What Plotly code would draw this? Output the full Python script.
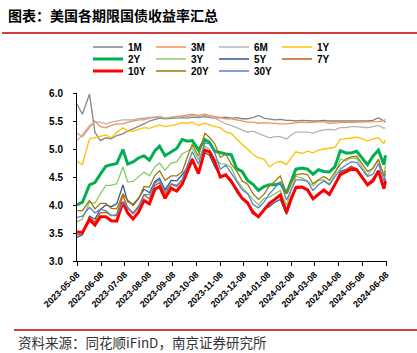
import plotly.graph_objects as go

# ---------------- data ----------------
dates = [
    "2023-05-08", "2023-05-15", "2023-05-24", "2023-05-31", "2023-06-07", "2023-06-14",
    "2023-06-21", "2023-06-28", "2023-07-06", "2023-07-12", "2023-07-19", "2023-07-26",
    "2023-08-02", "2023-08-09", "2023-08-16", "2023-08-22", "2023-08-29", "2023-09-06",
    "2023-09-13", "2023-09-20", "2023-09-27", "2023-10-03", "2023-10-11", "2023-10-19",
    "2023-10-25", "2023-11-01", "2023-11-08", "2023-11-15", "2023-11-22", "2023-11-29",
    "2023-12-06", "2023-12-13", "2023-12-20", "2023-12-27", "2024-01-03", "2024-01-10",
    "2024-01-17", "2024-01-24", "2024-02-01", "2024-02-07", "2024-02-13", "2024-02-21",
    "2024-02-28", "2024-03-06", "2024-03-13", "2024-03-20", "2024-03-27", "2024-04-03",
    "2024-04-10", "2024-04-17", "2024-04-24", "2024-05-01", "2024-05-08", "2024-05-15",
    "2024-05-22", "2024-05-29", "2024-06-05", "2024-06-07",
]

y_1m = [5.80, 5.62, 5.98, 5.30, 5.15, 5.20, 5.18, 5.24, 5.27, 5.32, 5.36, 5.40,
        5.45, 5.50, 5.53, 5.55, 5.54, 5.55, 5.56, 5.56, 5.55, 5.57, 5.56, 5.58,
        5.56, 5.55, 5.56, 5.57, 5.55, 5.56, 5.54, 5.54, 5.56, 5.60, 5.55, 5.53,
        5.52, 5.53, 5.51, 5.51, 5.50, 5.51, 5.50, 5.50, 5.50, 5.51, 5.50, 5.50,
        5.49, 5.50, 5.50, 5.50, 5.49, 5.50, 5.51, 5.56, 5.50, 5.48]
y_3m = [5.28, 5.22, 5.38, 5.50, 5.40, 5.38, 5.42, 5.45, 5.45, 5.48, 5.50, 5.52,
        5.52, 5.55, 5.56, 5.57, 5.55, 5.57, 5.58, 5.59, 5.60, 5.62, 5.60, 5.62,
        5.60, 5.58, 5.56, 5.54, 5.54, 5.52, 5.50, 5.48, 5.48, 5.46, 5.47, 5.46,
        5.45, 5.45, 5.45, 5.46, 5.47, 5.48, 5.47, 5.48, 5.48, 5.49, 5.46, 5.46,
        5.47, 5.48, 5.47, 5.48, 5.48, 5.48, 5.48, 5.49, 5.51, 5.53]
y_6m = [5.15, 5.25, 5.42, 5.48, 5.48, 5.45, 5.48, 5.50, 5.52, 5.52, 5.52, 5.54,
        5.55, 5.56, 5.57, 5.58, 5.55, 5.57, 5.56, 5.58, 5.58, 5.60, 5.58, 5.60,
        5.58, 5.55, 5.50, 5.45, 5.42, 5.38, 5.35, 5.30, 5.32, 5.28, 5.25, 5.20,
        5.22, 5.22, 5.18, 5.25, 5.30, 5.30, 5.30, 5.28, 5.32, 5.34, 5.35, 5.34,
        5.38, 5.38, 5.40, 5.40, 5.39, 5.38, 5.40, 5.42, 5.37, 5.38]
y_1y = [4.78, 4.72, 5.18, 5.20, 5.22, 5.25, 5.20, 5.30, 5.38, 5.32, 5.32, 5.35,
        5.38, 5.37, 5.40, 5.43, 5.40, 5.42, 5.44, 5.47, 5.46, 5.48, 5.42, 5.46,
        5.43, 5.40, 5.38, 5.30, 5.28, 5.18, 5.08, 5.00, 4.90, 4.84, 4.82, 4.68,
        4.75, 4.78, 4.72, 4.84, 4.95, 4.92, 4.96, 4.93, 4.98, 5.00, 5.02, 5.03,
        5.17, 5.18, 5.20, 5.21, 5.18, 5.14, 5.18, 5.20, 5.10, 5.16]
y_2y = [4.00, 4.05, 4.36, 4.40, 4.55, 4.69, 4.72, 4.74, 4.99, 4.73, 4.77, 4.84,
        4.88, 4.80, 4.97, 5.05, 4.88, 4.95, 5.01, 5.17, 5.14, 5.15, 4.98, 5.17,
        5.12, 4.96, 4.93, 4.91, 4.90, 4.65, 4.60, 4.44, 4.37, 4.26, 4.33, 4.36,
        4.36, 4.39, 4.21, 4.44, 4.64, 4.66, 4.64, 4.55, 4.63, 4.60, 4.59, 4.68,
        4.97, 4.93, 4.93, 4.96, 4.83, 4.72, 4.87, 4.98, 4.72, 4.89]
y_3y = [3.70, 3.75, 4.05, 4.03, 4.20, 4.35, 4.35, 4.38, 4.68, 4.41, 4.42, 4.50,
        4.59, 4.52, 4.68, 4.75, 4.62, 4.75, 4.77, 4.91, 4.96, 5.01, 4.81, 5.05,
        5.00, 4.82, 4.74, 4.73, 4.67, 4.45, 4.32, 4.20, 4.10, 4.00, 4.12, 4.14,
        4.20, 4.26, 3.99, 4.28, 4.51, 4.48, 4.43, 4.34, 4.44, 4.45, 4.38, 4.53,
        4.82, 4.79, 4.84, 4.83, 4.67, 4.53, 4.67, 4.80, 4.53, 4.71]
y_5y = [3.42, 3.47, 3.80, 3.75, 3.92, 4.00, 3.97, 4.02, 4.36, 4.06, 4.01, 4.12,
        4.28, 4.22, 4.42, 4.48, 4.27, 4.44, 4.43, 4.54, 4.68, 4.82, 4.59, 4.93,
        4.89, 4.68, 4.52, 4.51, 4.45, 4.23, 4.11, 4.02, 3.90, 3.79, 3.93, 3.97,
        4.05, 4.10, 3.83, 4.09, 4.31, 4.31, 4.26, 4.10, 4.21, 4.24, 4.18, 4.35,
        4.60, 4.63, 4.69, 4.64, 4.50, 4.36, 4.47, 4.62, 4.31, 4.47]
y_7y = [3.46, 3.49, 3.78, 3.70, 3.86, 3.87, 3.81, 3.83, 4.17, 3.95, 3.86, 3.98,
        4.18, 4.11, 4.35, 4.40, 4.19, 4.37, 4.33, 4.44, 4.66, 4.84, 4.59, 4.98,
        4.95, 4.76, 4.51, 4.55, 4.45, 4.26, 4.13, 4.04, 3.90, 3.78, 3.92, 4.00,
        4.09, 4.15, 3.85, 4.13, 4.33, 4.33, 4.29, 4.12, 4.21, 4.27, 4.20, 4.37,
        4.57, 4.62, 4.68, 4.65, 4.52, 4.38, 4.46, 4.62, 4.30, 4.45]
y_10y = [3.52, 3.51, 3.74, 3.64, 3.79, 3.79, 3.72, 3.71, 4.05, 3.86, 3.75, 3.87,
         4.08, 4.02, 4.28, 4.33, 4.12, 4.30, 4.25, 4.37, 4.61, 4.81, 4.56, 4.98,
         4.95, 4.77, 4.50, 4.54, 4.42, 4.27, 4.12, 4.04, 3.86, 3.79, 3.91, 4.03,
         4.10, 4.18, 3.87, 4.12, 4.31, 4.32, 4.27, 4.11, 4.19, 4.27, 4.19, 4.36,
         4.54, 4.59, 4.64, 4.63, 4.49, 4.36, 4.43, 4.61, 4.29, 4.43]
y_20y = [3.90, 3.90, 4.08, 3.93, 4.03, 4.03, 3.94, 3.93, 4.20, 4.09, 3.99, 4.11,
         4.33, 4.32, 4.53, 4.61, 4.44, 4.52, 4.52, 4.59, 4.87, 5.08, 4.87, 5.28,
         5.21, 5.09, 4.85, 4.91, 4.73, 4.61, 4.43, 4.37, 4.20, 4.10, 4.19, 4.34,
         4.42, 4.52, 4.20, 4.39, 4.54, 4.56, 4.54, 4.38, 4.45, 4.51, 4.44, 4.59,
         4.73, 4.82, 4.86, 4.87, 4.73, 4.60, 4.65, 4.82, 4.51, 4.61]
y_30y = [3.78, 3.80, 3.96, 3.86, 3.92, 3.90, 3.81, 3.81, 4.04, 3.96, 3.84, 3.95,
         4.19, 4.18, 4.39, 4.45, 4.24, 4.38, 4.35, 4.45, 4.72, 4.95, 4.73, 5.11,
         5.09, 4.93, 4.64, 4.71, 4.57, 4.43, 4.27, 4.20, 4.01, 3.95, 4.05, 4.20,
         4.31, 4.41, 4.09, 4.27, 4.45, 4.45, 4.42, 4.26, 4.36, 4.43, 4.36, 4.50,
         4.64, 4.71, 4.77, 4.76, 4.64, 4.51, 4.55, 4.74, 4.43, 4.55]

tick_vals = ["2023-05-08", "2023-06-08", "2023-07-08", "2023-08-08", "2023-09-08",
             "2023-10-08", "2023-11-08", "2023-12-08", "2024-01-08", "2024-02-08",
             "2024-03-08", "2024-04-08", "2024-05-08", "2024-06-08"]

names = ["1M", "3M", "6M", "1Y", "2Y", "3Y", "5Y", "7Y", "10Y", "20Y", "30Y"]
values = [y_1m, y_3m, y_6m, y_1y, y_2y, y_3y, y_5y, y_7y, y_10y, y_20y, y_30y]

# ---------------- styles ----------------
colors = ["#858585", "#F3925A", "#B4B4B4", "#FFC000", "#00B050", "#8CC868",
          "#2F5597", "#C55A11", "#FF0000", "#9C7A0C", "#5B82C4"]
widths = [1.3, 1.3, 1.3, 1.3, 3.0, 1.3, 1.3, 1.3, 3.0, 1.3, 1.3]
legend_ids = ["legend", "legend", "legend", "legend",
              "legend2", "legend2", "legend2", "legend2",
              "legend3", "legend3", "legend3"]

fig = go.Figure()
for n, v, c, w, lg in zip(names, values, colors, widths, legend_ids):
    fig.add_trace(go.Scatter(x=dates, y=v, mode="lines", name=n,
                             line=dict(color=c, width=w), legend=lg))

L, R, T, B = 77, 30, 93, 92
W, H = 417, 353
pw, ph = W - L - R, H - T - B


def px(x):
    return (x - L) / pw


def py(y):
    return (H - B - y) / ph


legend_font = dict(family="Liberation Sans", size=10, color="#000000", weight="bold")


def make_legend(row_y):
    return dict(orientation="h", x=px(88), xanchor="left", y=py(row_y), yanchor="middle",
                entrywidth=18, entrywidthmode="pixels", font=legend_font,
                bgcolor="rgba(0,0,0,0)", borderwidth=0, itemwidth=30,
                tracegroupgap=0)


fig.update_layout(
    width=W, height=H,
    margin=dict(l=L, r=R, t=T, b=B),
    paper_bgcolor="white", plot_bgcolor="white",
    showlegend=True,
    legend=make_legend(47),
    legend2=make_legend(59),
    legend3=make_legend(71),
    xaxis=dict(
        type="date", range=["2023-05-08", "2024-06-09"],
        tickvals=tick_vals, ticktext=tick_vals, tickangle=-45,
        ticks="outside", ticklen=4, tickcolor="#000000",
        showline=True, linecolor="#000000", linewidth=1,
        showgrid=False, zeroline=False,
        tickfont=dict(family="Liberation Sans", size=9, color="#000000", weight="bold"),
    ),
    yaxis=dict(
        range=[3, 6], dtick=0.5, tickformat=".1f",
        ticks="outside", ticklen=3, tickcolor="#000000",
        showline=True, linecolor="#000000", linewidth=1,
        showgrid=False, zeroline=False, ticklabelstandoff=8,
        tickfont=dict(family="Liberation Sans", size=10, color="#000000", weight="bold"),
    ),
    shapes=[
        dict(type="line", xref="paper", yref="paper", x0=px(2), x1=px(417),
             y0=py(33), y1=py(33), line=dict(color="#C00000", width=1.5)),
        dict(type="line", xref="paper", yref="paper", x0=px(14), x1=px(417),
             y0=py(330), y1=py(330), line=dict(color="#C00000", width=1.5)),
    ],
    annotations=[
        dict(text="图表：美国各期限国债收益率汇总", xref="paper", yref="paper",
             x=px(6), y=py(15), xanchor="left", yanchor="middle", showarrow=False,
             font=dict(family="Noto Sans CJK SC", size=14, color="#000000", weight="bold")),
        dict(text="资料来源：同花顺iFinD，南京证券研究所", xref="paper", yref="paper",
             x=px(16), y=py(342), xanchor="left", yanchor="middle", showarrow=False,
             font=dict(family="Noto Sans CJK SC", size=13.5, color="#333333")),
    ],
)

fig.write_html("out.html")
